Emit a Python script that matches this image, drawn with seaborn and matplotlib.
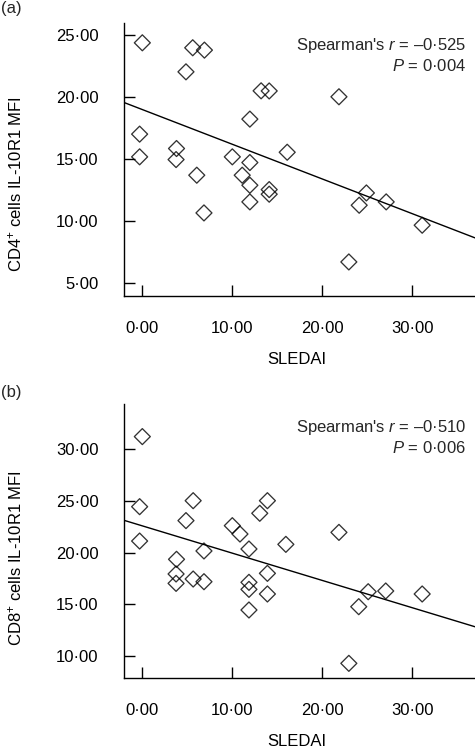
import matplotlib
matplotlib.use("Agg")
import matplotlib.pyplot as plt
import seaborn as sns
import numpy as np
import pandas as pd
from matplotlib.ticker import FuncFormatter, FixedLocator

# ---- data ----
sledai_a = [0.0, 5.6, 6.9, 4.85, 13.2, 14.1, 21.85, 11.95, -0.3, -0.3, 3.8, 3.75, 6.05,
            10.0, 11.95, 11.1, 11.95, 14.1, 14.1, 11.95, 6.85, 16.1, 24.9, 24.1, 27.1, 31.1, 22.95]
cd4_mfi = [24.38, 23.98, 23.79, 22.04, 20.51, 20.5, 20.03, 18.23, 17.02, 15.19, 15.86, 14.97, 13.71,
           15.19, 14.73, 13.71, 12.9, 12.55, 12.18, 11.56, 10.67, 15.56, 12.28, 11.29, 11.56, 9.68, 6.72]

sledai_b = [0.0, -0.3, -0.3, 5.65, 4.85, 3.8, 3.75, 3.75, 5.65, 6.85, 6.85, 10.0, 10.85, 11.85,
            13.05, 13.9, 11.85, 11.85, 11.85, 13.9, 13.9, 15.95, 21.85, 25.1, 24.05, 27.05, 31.1, 22.95]
cd8_mfi = [31.23, 24.44, 21.11, 25.02, 23.09, 19.34, 17.92, 17.01, 17.43, 20.15, 17.17, 22.6, 21.79, 20.34,
           23.8, 25.02, 17.11, 16.43, 14.43, 17.98, 15.98, 20.79, 21.95, 16.2, 14.75, 16.27, 15.98, 9.26]

xticks = [0, 10, 20, 30]
yticks_a = [5, 10, 15, 20, 25]
yticks_b = [10, 15, 20, 25, 30]
panel_labels = ["(a)", "(b)"]
ylabels = ["CD4$^{+}$ cells IL-10R1 MFI", "CD8$^{+}$ cells IL-10R1 MFI"]
stats_r = ["Spearman's $\\mathit{r}$ = \u20130\u00b7525", "Spearman's $\\mathit{r}$ = \u20130\u00b7510"]
stats_p = ["$\\mathit{P}$ = 0\u00b7004", "$\\mathit{P}$ = 0\u00b7006"]
xlabel = "SLEDAI"

df_a = pd.DataFrame({"SLEDAI": sledai_a, "MFI": cd4_mfi})
df_b = pd.DataFrame({"SLEDAI": sledai_b, "MFI": cd8_mfi})

sns.set_style("ticks")
plt.rcParams["font.family"] = ["Liberation Sans", "DejaVu Sans"]
plt.rcParams["mathtext.fontset"] = "custom"
plt.rcParams["mathtext.rm"] = "Liberation Sans"
plt.rcParams["mathtext.it"] = "Liberation Sans:italic"
plt.rcParams["mathtext.bf"] = "Liberation Sans:bold"
plt.rcParams["font.size"] = 12

FS = 12
W, H = 475, 752
fig = plt.figure(figsize=(W / 100, H / 100), dpi=100)

box_a = (123.7, 22.7, 475, 295.7)
box_b = (123.7, 404.3, 475, 678.0)

def frac_box(box):
    left, top, right, bottom = box
    return [left / W, 1 - bottom / H, (right - left) / W, (bottom - top) / H]

ax_a = fig.add_axes(frac_box(box_a))
ax_b = fig.add_axes(frac_box(box_b))

fmt = FuncFormatter(lambda v, p: f"{v:.2f}".replace(".", "\u00b7"))

configs = [
    (ax_a, df_a, (4.0, 26.0), yticks_a, 0, box_a, 184, 360),
    (ax_b, df_b, (7.84, 34.36), yticks_b, 1, box_b, 558, 741),
]

for ax, df, ylim, yticks, i, box, ylab_y, xlab_y in configs:
    left, top, right, bottom = box
    ax.set_xlim(-2.07, 36.97)
    ax.set_ylim(*ylim)
    sns.regplot(data=df, x="SLEDAI", y="MFI", ax=ax, ci=None, truncate=False,
                marker="D",
                scatter_kws=dict(s=66, facecolors="none", edgecolors="black", linewidths=0.95),
                line_kws=dict(color="black", lw=1.0))
    ax.set_xlim(-2.07, 36.97)
    ax.set_ylim(*ylim)
    ax.xaxis.set_major_locator(FixedLocator(xticks))
    ax.yaxis.set_major_locator(FixedLocator(yticks))
    ax.xaxis.set_major_formatter(fmt)
    ax.yaxis.set_major_formatter(fmt)
    ax.tick_params(direction="in", length=8, width=1.0, color="black", labelsize=FS,
                   labelcolor="black")
    ax.tick_params(axis="y", pad=18)
    ax.tick_params(axis="x", pad=18)
    for s in ["top", "right"]:
        ax.spines[s].set_visible(False)
    for s in ["left", "bottom"]:
        ax.spines[s].set_color("black")
        ax.spines[s].set_linewidth(1.0)
    ax.set_xlabel(xlabel, fontsize=FS, color="black", va="center")
    ax.set_ylabel(ylabels[i], fontsize=FS, color="black", va="center")
    ax.xaxis.set_label_coords((297 - left) / (right - left), (bottom - xlab_y) / (bottom - top))
    ax.yaxis.set_label_coords((15 - left) / (right - left), (bottom - ylab_y) / (bottom - top))
    ax.text(0.975, 0.915, stats_r[i], transform=ax.transAxes, ha="right", va="center",
            fontsize=FS)
    ax.text(0.975, 0.842, stats_p[i], transform=ax.transAxes, ha="right", va="center",
            fontsize=FS)

fig.text(1 / W, 1 - 9 / H, panel_labels[0], ha="left", va="center", fontsize=FS)
fig.text(1 / W, 1 - 392 / H, panel_labels[1], ha="left", va="center", fontsize=FS)

fig.savefig("out.png", dpi=100, facecolor="white")
